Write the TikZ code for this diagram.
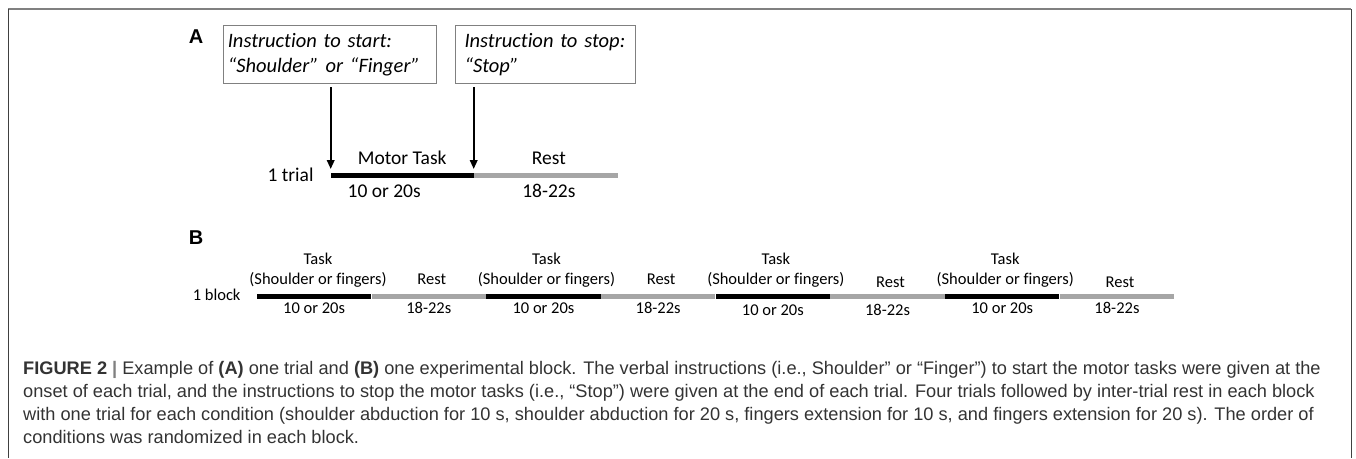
\documentclass[tikz,border=0pt]{standalone}
\usepackage{fontspec}
\setmainfont{Carlito}[Ligatures=NoCommon]
\newfontfamily\capfont{Liberation Sans}
\usetikzlibrary{arrows.meta, positioning}

\definecolor{restgray}{HTML}{A6A6A6}
\definecolor{boxgray}{HTML}{808080}
\definecolor{captext}{HTML}{333333}

\begin{document}
\begin{tikzpicture}[x=1pt, y=-1pt,
  instr/.style={rectangle, draw=boxgray, line width=1pt, fill=white,
                align=left, anchor=north west, minimum height=58pt,
                inner ysep=0pt, font=\fontsize{20.5}{24.5}\selectfont\itshape},
  bigbar/.style={rectangle, inner sep=0pt, minimum height=5pt},
  seg/.style={rectangle, inner sep=0pt, minimum width=114.3pt, minimum height=5pt},
  taskseg/.style={seg, fill=black},
  restseg/.style={seg, fill=restgray},
  biglbl/.style={inner sep=0pt, text height=0.75em, text depth=0.25em,
                 font=\fontsize{19.5}{23}\selectfont},
  lbl/.style={inner sep=0pt, text height=0.75em, text depth=0.25em,
              font=\fontsize{16.5}{20}\selectfont},
  tasklbl/.style={inner sep=0pt, align=center, font=\fontsize{16.5}{20}\selectfont},
  panel/.style={inner sep=0pt, font=\capfont\bfseries\fontsize{20}{22}\selectfont},
  arrow/.style={-{Triangle[length=9pt, width=7.5pt]}, line width=2pt,
                shorten <=3pt, shorten >=4pt},
]
\useasboundingbox (0,0) rectangle (1356,458);

% ---- frame ----
\draw[gray, line width=2pt] (8,9) -- (1351,9);
\draw[black!75, line width=1pt] (8,9) -- (8,458);
\draw[black!75, line width=1pt] (1351,9) -- (1351,458);

% ---- A: one trial ----
\node[panel] (pa) at (196,37) {A};

\node[instr, text width=203.8pt, inner xsep=4.6pt] (start) at (222.7,25)
  {Instruction to start:\\“Shoulder” or “Finger”};

\node[instr, text width=162.6pt, inner xsep=8.7pt] (stop) at (455.3,25)
  {Instruction to stop:\\“Stop”};

\node[bigbar, fill=black, minimum width=142.6pt, anchor=west] (motor) at (330.7,175.7) {};

\node[bigbar, fill=restgray, minimum width=144pt, right=0pt of motor] (rest) {};

\node[biglbl, left=17pt of motor, yshift=-3pt] (trial) {1 trial};
\node[biglbl, above=6pt of motor] (motorlbl) {Motor Task};
\node[biglbl, below=11pt of motor, xshift=-18pt] (motordur) {10 or 20s};
\node[biglbl, above=6pt of rest, xshift=3pt] (restlbl) {Rest};
\node[biglbl, below=11pt of rest, xshift=3pt] (restdur) {18-22s};

% ---- arrows ----
\draw[arrow] (start.south -| motor.west) -- (motor.north west);
\draw[arrow] (stop.south -| motor.east) -- (motor.north east);

% ---- B: one block ----
\node[panel] (pb) at (196,238) {B};

\node[taskseg, anchor=west] (t1) at (256.7,296) {};
\node[restseg, right=0pt of t1] (r1) {};
\node[taskseg, right=0pt of r1] (t2) {};
\node[restseg, right=0pt of t2] (r2) {};
\node[taskseg, right=0pt of r2] (t3) {};
\node[restseg, right=0pt of t3] (r3) {};
\node[taskseg, right=0pt of r3] (t4) {};
\node[restseg, right=0pt of t4] (r4) {};

\node[lbl, left=16pt of t1, yshift=-2pt] (block) {1 block};

\node[tasklbl, above=6pt of t1, xshift=4pt] (tl1) {Task\\(Shoulder or fingers)};
\node[tasklbl, above=6pt of t2, xshift=3pt] (tl2) {Task\\(Shoulder or fingers)};
\node[tasklbl, above=6pt of t3, xshift=3pt] (tl3) {Task\\(Shoulder or fingers)};
\node[tasklbl, above=6pt of t4, xshift=3pt] (tl4) {Task\\(Shoulder or fingers)};

\node[lbl, above=6pt of r1, xshift=3pt] (rl1) {Rest};
\node[lbl, above=6pt of r2, xshift=3pt] (rl2) {Rest};
\node[lbl, above=3pt of r3, xshift=3pt] (rl3) {Rest};
\node[lbl, above=3pt of r4, xshift=3pt] (rl4) {Rest};

\node[lbl, below=7pt of t1] (td1) {10 or 20s};
\node[lbl, below=7pt of r1] (rd1) {18-22s};
\node[lbl, below=7pt of t2] (td2) {10 or 20s};
\node[lbl, below=7pt of r2] (rd2) {18-22s};
\node[lbl, below=9pt of t3] (td3) {10 or 20s};
\node[lbl, below=9pt of r3] (rd3) {18-22s};
\node[lbl, below=7pt of t4] (td4) {10 or 20s};
\node[lbl, below=7pt of r4] (rd4) {18-22s};

% ---- caption ----
\node[anchor=north west, inner sep=0pt, align=left, text=captext,
      font=\capfont\fontsize{18.2}{23}\selectfont] (caption) at (23,361)
  {\textbf{FIGURE 2}\ {\color{gray}\textbf{|}}\ Example of \textbf{(A)} one trial and \textbf{(B)} one experimental block. The verbal instructions (i.e., Shoulder” or “Finger”) to start the motor tasks were given at the\\
   onset of each trial, and the instructions to stop the motor tasks (i.e., “Stop”) were given at the end of each trial. Four trials followed by inter-trial rest in each block\\
   with one trial for each condition (shoulder abduction for 10 s, shoulder abduction for 20 s, fingers extension for 10 s, and fingers extension for 20 s). The order of\\
   conditions was randomized in each block.};

\end{tikzpicture}
\end{document}
